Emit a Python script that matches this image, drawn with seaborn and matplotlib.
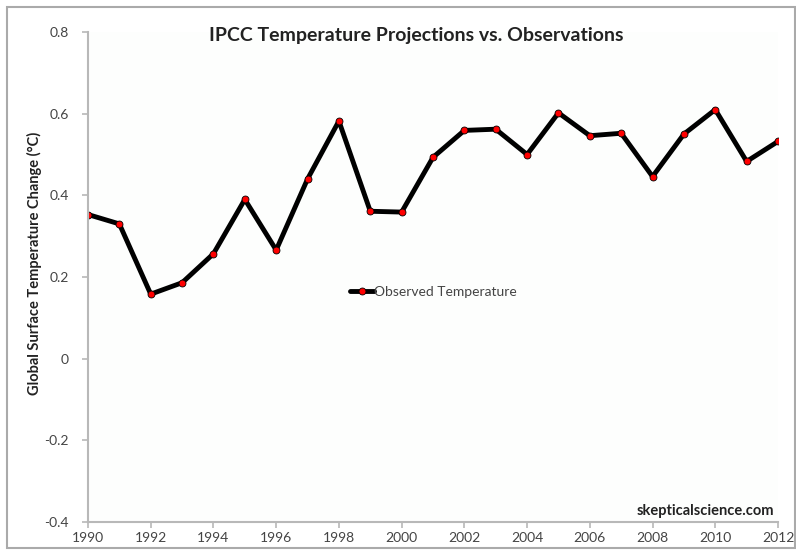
import numpy as np
import pandas as pd
import seaborn as sns
import matplotlib.pyplot as plt
from matplotlib.patches import Rectangle

# Observed global surface temperature change
years = list(range(1990, 2013))
temps = [0.353, 0.330, 0.158, 0.186, 0.257, 0.390, 0.266, 0.440, 0.582, 0.361, 0.359,
         0.493, 0.559, 0.562, 0.500, 0.602, 0.546, 0.552, 0.446, 0.550, 0.610, 0.483, 0.532]
series_name = 'Observed Temperature'
xticks = list(range(1990, 2013, 2))
yticks = [-0.4, -0.2, 0, 0.2, 0.4, 0.6, 0.8]
ytick_labels = ['-0.4', '-0.2', '0', '0.2', '0.4', '0.6', '0.8']

df = pd.DataFrame({'year': years, 'temp': temps})

sns.set_style('white')
plt.rcParams['font.family'] = ['Lato', 'DejaVu Sans']

fig = plt.figure(figsize=(7.96, 5.5), dpi=100)
fig.patch.set_facecolor('white')
ax = fig.add_axes([88 / 796, 1 - 522 / 550, 690 / 796, 490 / 550])
ax.set_facecolor('#fdfefd')

sns.lineplot(data=df, x='year', y='temp', ax=ax, color='black', lw=3.5,
             marker='o', markersize=5, markerfacecolor='red',
             markeredgecolor='black', markeredgewidth=0.6, label=series_name)

ax.set_xlim(1990, 2012)
ax.set_ylim(-0.4, 0.8)
ax.set_xticks(xticks)
ax.set_yticks(yticks)
ax.set_yticklabels(ytick_labels)
ax.set_xlabel('')
ax.set_ylabel('')

for side in ['top', 'right']:
    ax.spines[side].set_visible(False)
for side in ['left', 'bottom']:
    ax.spines[side].set_color('#b8b8b8')
    ax.spines[side].set_linewidth(1.5)
ax.tick_params(axis='both', direction='out', length=4, width=1.2, color='#b8b8b8',
               labelsize=10, labelcolor='#444444', left=True, bottom=True)
ax.tick_params(axis='y', pad=10)

fig.text(34 / 796, 1 - 263 / 550, 'Global Surface Temperature Change (°C)',
         rotation=90, ha='center', va='center', fontsize=10.5,
         fontweight='bold', color='#222222')
fig.text(416 / 796, 1 - 35 / 550, 'IPCC Temperature Projections vs. Observations',
         ha='center', va='center', fontsize=14, fontweight='bold', color='#222222')

leg = ax.legend(loc='center left', bbox_to_anchor=(0.362, 0.469), frameon=False,
                handlelength=1.7, handletextpad=0.0, fontsize=10)
for t in leg.get_texts():
    t.set_color('#444444')

ax.text(0.995, 0.008, 'skepticalscience.com', transform=ax.transAxes, ha='right',
        va='bottom', fontsize=10.5, fontweight='bold', color='#222222')

fig.patches.append(Rectangle((7 / 796, 2 / 550), 788 / 796, 541 / 550,
                             transform=fig.transFigure, fill=False,
                             edgecolor='#aaaaaa', lw=1.5))

fig.savefig('out.png', dpi=100)
